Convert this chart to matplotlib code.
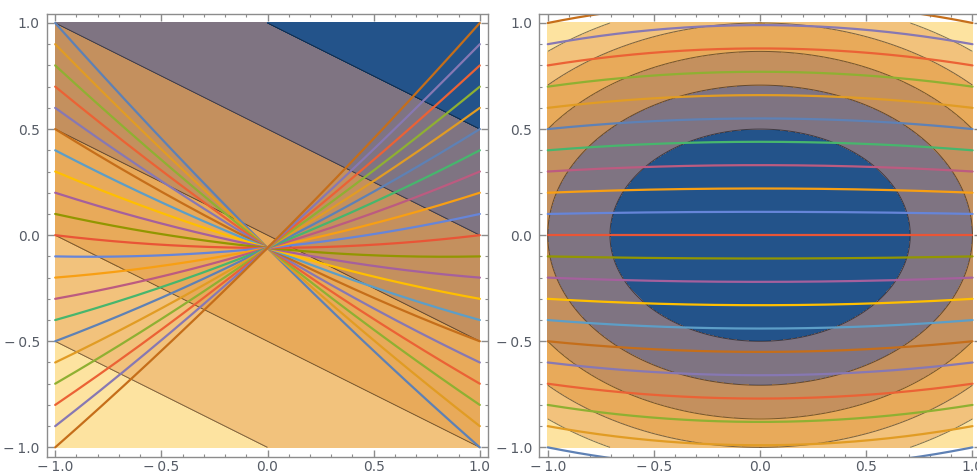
import numpy as np
import matplotlib.pyplot as plt
from matplotlib.ticker import MultipleLocator, FuncFormatter

# contour shading, low -> high
band_colors = ['#FDE3A0', '#F2C27C', '#E8AA5A', '#C4905E', '#7F7482', '#23538A']
left_levels = [-3, -2, -1, 0, 1, 2, 3]            # field x + 2y
right_levels = [0, 0.5, 1.0, 1.5, 2.0, 2.5, 3.0]  # field x^2 + 2y^2

# Mathematica default line colours (cycle)
line_colors = ['#5E81B5', '#E19C24', '#8FB032', '#EB6235', '#8778B3', '#C56E1A',
               '#5D9EC7', '#FFBF00', '#A5609D', '#929600', '#E95536', '#6685D9',
               '#F89F13', '#BC5B80', '#47B66D', '#5E81B5', '#E19C24', '#8FB032',
               '#EB6235', '#8778B3', '#C56E1A']

# left panel curves: y at x = -1, 0, 1
left_start = [1.0, 0.9, 0.8, 0.7, 0.6, 0.5, 0.4, 0.3, 0.2, 0.1, 0.0,
              -0.1, -0.2, -0.3, -0.4, -0.5, -0.6, -0.7, -0.8, -0.9, -1.0]
left_mid = [-0.06, -0.06, -0.06, -0.06, -0.06, -0.06, -0.06, -0.06, -0.06, -0.06, -0.06,
            -0.06, -0.06, -0.06, -0.06, -0.06, -0.06, -0.06, -0.06, -0.06, -0.06]
left_end = [-1.0, -0.9, -0.8, -0.7, -0.6, -0.5, -0.4, -0.3, -0.2, -0.1, 0.0,
            0.1, 0.2, 0.3, 0.4, 0.5, 0.6, 0.7, 0.8, 0.9, 1.0]

# right panel curves: y at x = +-1 and at x = 0
right_edge = [-1.0, -0.9, -0.8, -0.7, -0.6, -0.5, -0.4, -0.3, -0.2, -0.1, 0.0,
              0.1, 0.2, 0.3, 0.4, 0.5, 0.6, 0.7, 0.8, 0.9, 1.0]
right_mid = [-1.1, -0.99, -0.88, -0.77, -0.66, -0.55, -0.44, -0.33, -0.22, -0.11, 0.0,
             0.11, 0.22, 0.33, 0.44, 0.55, 0.66, 0.77, 0.88, 0.99, 1.1]

frame_col = '#8c8c8c'
label_col = '#565c66'


def fmt(v, pos):
    if abs(v) < 1e-9:
        return '0.0'
    if v < 0:
        return '\u2212\u2009%.1f' % -v
    return '%.1f' % v


def curve(xs, a, m, b):
    # parabola through (-1, a), (0, m), (1, b)
    return m + (b - a) / 2 * xs + ((a + b) / 2 - m) * xs ** 2


def style(ax):
    ax.set_xlim(-1.04, 1.04)
    ax.set_ylim(-1.044, 1.04)
    ax.xaxis.set_major_locator(MultipleLocator(0.5))
    ax.yaxis.set_major_locator(MultipleLocator(0.5))
    ax.xaxis.set_minor_locator(MultipleLocator(0.1))
    ax.yaxis.set_minor_locator(MultipleLocator(0.1))
    ax.xaxis.set_major_formatter(FuncFormatter(fmt))
    ax.yaxis.set_major_formatter(FuncFormatter(fmt))
    ax.tick_params(which='both', direction='in', top=True, right=True,
                   color=frame_col, labelcolor=label_col, labelsize=10)
    ax.tick_params(which='major', length=5, width=1)
    ax.tick_params(which='minor', length=2.5, width=0.8)
    ax.tick_params(axis='x', which='major', pad=2.5)
    ax.tick_params(axis='y', which='major', pad=5)
    for s in ax.spines.values():
        s.set_color(frame_col)
        s.set_linewidth(1.0)


fig = plt.figure(figsize=(9.77, 4.75), dpi=100)
ax1 = fig.add_axes([0.0478, 0.0385, 0.452, 0.931])
ax2 = fig.add_axes([0.552, 0.0385, 0.452, 0.931])

g = np.linspace(-1, 1, 401)
X, Y = np.meshgrid(g, g)
xs = np.linspace(-1, 1, 200)

# left: linear field
Z1 = X + 2 * Y
ax1.contourf(X, Y, Z1, levels=left_levels, colors=band_colors)
ax1.contour(X, Y, Z1, levels=left_levels[1:-1], colors='k', linewidths=0.7,
            linestyles='solid', alpha=0.5)
for i in range(len(left_start)):
    ax1.plot(xs, curve(xs, left_start[i], left_mid[i], left_end[i]),
             color=line_colors[i], lw=1.6, solid_capstyle='round')

# right: elliptic field
Z2 = X ** 2 + 2 * Y ** 2
ax2.contourf(X, Y, Z2, levels=right_levels, colors=band_colors[::-1])
ax2.contour(X, Y, Z2, levels=right_levels[1:-1], colors='k', linewidths=0.7,
            linestyles='solid', alpha=0.5)
for i in range(len(right_edge)):
    ax2.plot(xs, curve(xs, right_edge[i], right_mid[i], right_edge[i]),
             color=line_colors[i], lw=1.6, solid_capstyle='round')

for ax in (ax1, ax2):
    style(ax)

fig.savefig('out.png', dpi=100)
